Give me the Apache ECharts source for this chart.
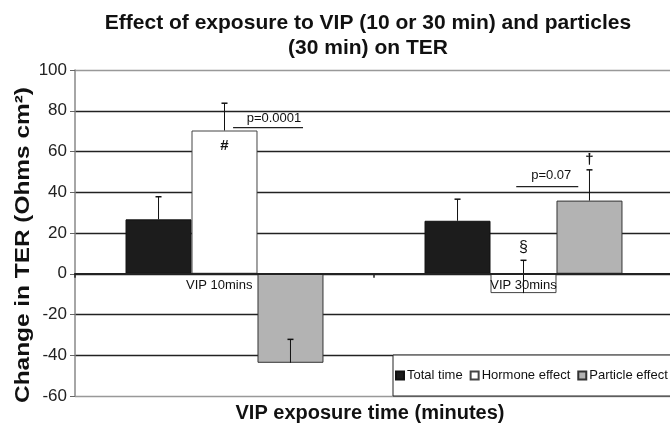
<!DOCTYPE html>
<html>
<head>
<meta charset="utf-8">
<script src="https://cdn.jsdelivr.net/npm/echarts@6/dist/echarts.min.js"></script>
<style>html,body{margin:0;padding:0;background:#fff;}#c{width:670px;height:424px;}</style>
</head>
<body>
<div id="c"></div>
<script>
// ---- data ----
const categories = ['VIP 10mins', 'VIP 30mins'];
const seriesNames = ['Total time', 'Hormone effect', 'Particle effect'];
const totalTime = [26.7, 26.0];
const hormoneEffect = [70.3, -9.5];
const particleEffect = [-43.7, 35.9];
const totalTimeErr = [11.1, 10.6];
const hormoneEffectErr = [13.4, 16.1];
const particleEffectErr = [11.5, 15.1];
const yTicks = { min: -60, max: 100, interval: 20 };
// annotations: text, category, offset (bar widths from group centre), value
const annoTexts = ['#', 'p=0.0001', '\u00a7', 'p=0.07', '\u2020'];
const annoCats = [0, 0, 1, 1, 1];
const annoOffsets = [0, 0.75, 0, 0.42, 1.0];
const annoValues = [63, 76, 13, 48.5, 56];
const annoSizes = [15, 13, 16, 13, 15];
const annoBold = [true, false, false, false, true];
// significance lines: category, from, to (bar widths), value
const sigCats = [0, 1];
const sigFrom = [0.13, -0.11];
const sigTo = [1.19, 0.83];
const sigValues = [71.7, 42.8];
// category label horizontal shift (bar widths)
const labelShift = [-0.08, 0];

const GAP = 0.338;
const FONT = 'Liberation Sans, Arial, sans-serif';

const chart = echarts.init(document.getElementById('c'), null, { renderer: 'canvas' });

function barWidth(api) {
  return api.size([1, 0])[0] * (1 - GAP) / 3;
}
function errSeries(name, vals, errs, slot) {
  return {
    type: 'custom',
    name: name + ' err',
    z: 3,
    silent: true,
    data: vals.map((v, i) => [i, v, errs[i]]),
    encode: { x: 0, y: 1 },
    renderItem: function (params, api) {
      const c = api.value(0), v = api.value(1), e = api.value(2);
      const base = api.coord([c, v]);
      const top = api.coord([c, v + e]);
      const x = base[0] + slot * barWidth(api);
      return {
        type: 'group',
        children: [
          { type: 'line', shape: { x1: x, y1: base[1], x2: x, y2: top[1] }, style: { stroke: '#111', lineWidth: 1 } },
          { type: 'line', shape: { x1: x - 3, y1: top[1], x2: x + 3, y2: top[1] }, style: { stroke: '#111', lineWidth: 1.5 } }
        ]
      };
    }
  };
}

const option = {
  animation: false,
  backgroundColor: '#fff',
  title: [
    {
      text: 'Effect of exposure to VIP (10 or 30 min) and particles\n(30 min) on TER',
      left: 368, top: 11, textAlign: 'center', padding: 0,
      textStyle: { fontFamily: FONT, fontSize: 21, fontWeight: 'bold', color: '#111', lineHeight: 25 }
    },
    {
      text: 'VIP exposure time (minutes)',
      left: 370, top: 403, textAlign: 'center', padding: 0,
      textStyle: { fontFamily: FONT, fontSize: 20, fontWeight: 'bold', color: '#111' }
    }
  ],
  graphic: [
    {
      type: 'text', x: 23, y: 245, rotation: Math.PI / 2, scaleX: 1.22,
      style: {
        text: 'Change in TER (Ohms cm\u00b2)', align: 'center', verticalAlign: 'middle',
        font: 'bold 20px ' + FONT, fill: '#111'
      }
    }
  ],
  legend: {
    left: 393, top: 355, width: 360,
    padding: [14, 10, 14, 2],
    itemWidth: 8, itemHeight: 8, itemGap: 7,
    icon: 'rect',
    borderColor: '#222', borderWidth: 1,
    backgroundColor: '#fff',
    data: seriesNames,
    textStyle: { fontFamily: FONT, fontSize: 13, color: '#111', padding: [0, 0, 0, -2] }
  },
  grid: { left: 75, right: -3, top: 70, bottom: 28, containLabel: false, outerBoundsMode: 'none' },
  xAxis: {
    type: 'category',
    data: categories,
    z: 4,
    axisLine: { onZero: true, lineStyle: { color: '#222', width: 2 } },
    axisTick: { show: true, length: 4, lineStyle: { color: '#222', width: 1.5 } },
    axisLabel: { show: false },
    splitLine: { show: false }
  },
  yAxis: {
    type: 'value',
    min: yTicks.min, max: yTicks.max, interval: yTicks.interval,
    axisLine: { show: true, lineStyle: { color: '#888', width: 1.5 } },
    axisTick: { show: true, length: 5, inside: false, lineStyle: { color: '#666', width: 1 } },
    axisLabel: { fontFamily: FONT, fontSize: 17, color: '#222', margin: 8 },
    splitLine: {
      show: true,
      lineStyle: { color: ['#999', '#222', '#222', '#222', '#222', '#222', '#222', '#222', '#999'], width: 1.3 }
    }
  },
  series: [
    {
      name: seriesNames[0], type: 'bar', data: totalTime,
      barGap: '0%', barCategoryGap: (GAP * 100) + '%',
      itemStyle: { color: '#1c1c1c', borderColor: '#111', borderWidth: 1 }
    },
    {
      name: seriesNames[1], type: 'bar', data: hormoneEffect,
      itemStyle: { color: '#ffffff', borderColor: '#444', borderWidth: 1 }
    },
    {
      name: seriesNames[2], type: 'bar', data: particleEffect,
      itemStyle: { color: '#b3b3b3', borderColor: '#333', borderWidth: 1 }
    },
    errSeries(seriesNames[0], totalTime, totalTimeErr, -1),
    errSeries(seriesNames[1], hormoneEffect, hormoneEffectErr, 0),
    errSeries(seriesNames[2], particleEffect, particleEffectErr, 1),
    {
      type: 'custom', name: 'catLabels', z: 6, silent: true,
      data: categories.map((c, i) => [i, 0]),
      encode: { x: 0, y: 1 },
      renderItem: function (params, api) {
        const i = params.dataIndex;
        const p = api.coord([api.value(0), api.value(1)]);
        return {
          type: 'text',
          x: p[0] + labelShift[i] * barWidth(api), y: p[1] + 5,
          style: { text: categories[i], align: 'center', verticalAlign: 'top', font: '13px ' + FONT, fill: '#111' }
        };
      }
    },
    {
      type: 'custom', name: 'annotations', z: 5, silent: true,
      data: annoTexts.map((t, i) => [annoCats[i], annoValues[i]]),
      encode: { x: 0, y: 1 },
      renderItem: function (params, api) {
        const i = params.dataIndex;
        const p = api.coord([api.value(0), api.value(1)]);
        const x = p[0] + annoOffsets[i] * barWidth(api);
        return {
          type: 'text',
          x: x, y: p[1],
          style: {
            text: annoTexts[i], align: 'center', verticalAlign: 'middle',
            font: (annoBold[i] ? 'bold ' : '') + annoSizes[i] + 'px ' + FONT,
            fill: '#111'
          }
        };
      }
    },
    {
      type: 'custom', name: 'sig', z: 5, silent: true,
      data: sigCats.map((c, i) => [c, sigValues[i]]),
      encode: { x: 0, y: 1 },
      renderItem: function (params, api) {
        const i = params.dataIndex;
        const p = api.coord([api.value(0), api.value(1)]);
        const bw = barWidth(api);
        return {
          type: 'line',
          shape: { x1: p[0] + sigFrom[i] * bw, y1: p[1], x2: p[0] + sigTo[i] * bw, y2: p[1] },
          style: { stroke: '#222', lineWidth: 1.3 }
        };
      }
    }
  ]
};
chart.setOption(option);
</script>
</body>
</html>
